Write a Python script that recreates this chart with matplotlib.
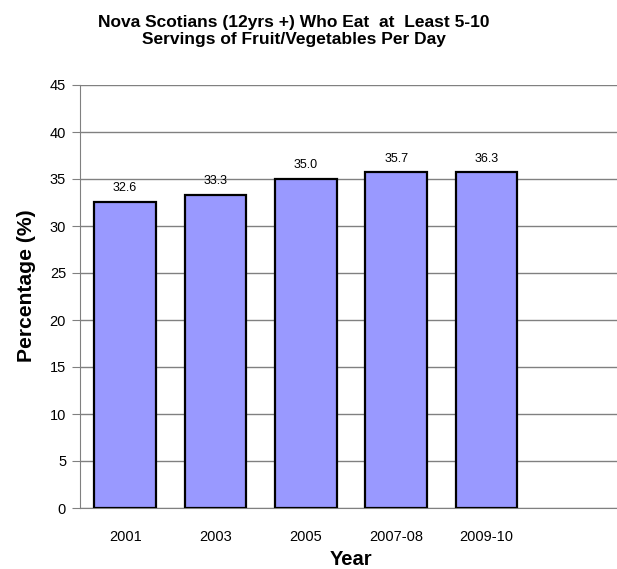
import numpy as np
import matplotlib.pyplot as plt

plt.rcParams['font.family'] = ['Liberation Sans', 'DejaVu Sans']

# data
years = ['2001', '2003', '2005', '2007-08', '2009-10', '']
heights = [32.6, 33.3, 35.0, 35.7, 35.7]   # drawn bar heights
labels = ['32.6', '33.3', '35.0', '35.7', '36.3']  # printed values
yticks = np.arange(0, 50, 5)

fig = plt.figure(figsize=(6.17, 5.69), dpi=100)
ax = fig.add_axes([80 / 617, 61 / 569, 542 / 617, 423 / 569])

x = np.arange(len(heights))
bars = ax.bar(x, heights, width=0.685, color='#9999FF', edgecolor='black',
              linewidth=1.6, zorder=3)

for b, lab in zip(bars, labels):
    ax.text(b.get_x() + b.get_width() / 2, b.get_height() + 0.8, lab,
            ha='center', va='bottom', fontsize=9)

ax.set_xlim(-0.5, 5.5)
ax.set_ylim(0, 45)
ax.set_yticks(yticks)
ax.set_xticks(np.arange(len(years)))
ax.set_xticklabels(years, fontsize=10.5)
ax.tick_params(axis='x', length=0, pad=16)
ax.tick_params(axis='y', length=6, color='#808080', labelsize=10.5, pad=4)

ax.grid(axis='y', color='#808080', linewidth=1.0, zorder=0)
ax.axhline(45, color='black', linewidth=1.2, zorder=1)
for s in ['top', 'right']:
    ax.spines[s].set_visible(False)
ax.spines['left'].set_color('#808080')
ax.spines['bottom'].set_color('#808080')

ax.set_xlabel('Year', fontsize=14.5, fontweight='bold', labelpad=4)
ax.set_ylabel('Percentage (%)', fontsize=15.2, fontweight='bold', labelpad=10, y=0.525)

fig.text(294 / 617, 1 - 31 / 569,
         'Nova Scotians (12yrs +) Who Eat  at  Least 5-10\nServings of Fruit/Vegetables Per Day',
         ha='center', va='center', fontsize=12.5, fontweight='bold', linespacing=1.2)

fig.savefig('out.png', dpi=100)
